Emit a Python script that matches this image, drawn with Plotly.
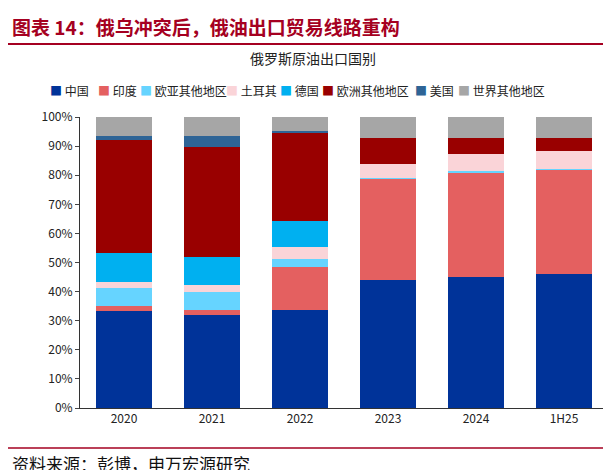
import plotly.graph_objects as go

years = ["2020", "2021", "2022", "2023", "2024", "1H25"]
series = ["中国", "印度", "欧亚其他地区", "土耳其", "德国", "欧洲其他地区", "美国", "世界其他地区"]
colors = ["#003399", "#E46060", "#66D4FF", "#FAD4D8", "#00B0F0", "#990000", "#2E6496", "#A6A6A6"]
values = {
    "中国":       [33.3, 32.0, 33.7, 44.0, 45.0, 46.0],
    "印度":       [1.7, 1.7, 14.8, 34.7, 35.8, 35.8],
    "欧亚其他地区": [6.2, 6.2, 2.7, 0.5, 0.6, 0.4],
    "土耳其":     [2.1, 2.4, 4.1, 4.8, 5.9, 6.2],
    "德国":       [10.0, 9.6, 9.0, 0.0, 0.0, 0.0],
    "欧洲其他地区": [38.8, 37.8, 30.5, 8.8, 5.5, 4.4],
    "美国":       [1.4, 3.8, 0.4, 0.0, 0.0, 0.0],
    "世界其他地区": [6.5, 6.5, 4.8, 7.2, 7.2, 7.2],
}

L, T, W, H = 72, 109, 528, 291
def px(x): return (x - L) / W
def py(y): return (T + H - y) / H

fig = go.Figure()
for s, c in zip(series, colors):
    fig.add_bar(x=years, y=[v / 100 for v in values[s]], name=s, marker_color=c,
                marker_line_width=0, showlegend=False)

font = "Noto Sans CJK SC"
legend_x = [40, 88, 130, 216, 270, 312, 405, 448]
ann = []
for s, c, lx in zip(series, colors, legend_x):
    ann.append(dict(text=f"<span style='color:{c}'>■</span> {s}", xref="paper", yref="paper",
                    x=px(lx), y=py(82), xanchor="left", yanchor="middle", showarrow=False,
                    font=dict(size=12, family=font, color="#222")))
ann += [
    dict(text="<b>图表 14：俄乌冲突后，俄油出口贸易线路重构</b>", xref="paper", yref="paper",
         x=px(2), y=py(18), xanchor="left", yanchor="middle", showarrow=False,
         font=dict(size=19, color="#A50021", family=font)),
    dict(text="俄罗斯原油出口国别", xref="paper", yref="paper", x=px(305), y=py(50),
         xanchor="center", yanchor="middle", showarrow=False, font=dict(size=14, color="#222")),
    dict(text="资料来源：彭博，申万宏源研究", xref="paper", yref="paper", x=px(2), y=py(455),
         xanchor="left", yanchor="middle", showarrow=False, font=dict(size=17, color="#111")),
]

fig.update_layout(
    barmode="stack", bargap=0.37, showlegend=False,
    width=611, height=470, paper_bgcolor="white", plot_bgcolor="white",
    margin=dict(l=L, r=611 - L - W, t=T, b=470 - T - H, pad=0),
    font=dict(family=font, size=12, color="#222"),
    yaxis=dict(range=[0, 1], tickformat=".0%", dtick=0.1, showgrid=False, ticks="outside",
               ticklen=4, linecolor="#333", showline=True),
    xaxis=dict(showline=True, linecolor="#333", ticks=""),
    shapes=[
        dict(type="line", xref="paper", yref="paper", x0=px(0), x1=px(611), y0=py(36), y1=py(36),
             line=dict(color="#A50021", width=2)),
        dict(type="line", xref="paper", yref="paper", x0=px(0), x1=px(611), y0=py(440), y1=py(440),
             line=dict(color="#A50021", width=1.5)),
    ],
    annotations=ann,
)
fig.write_html("out.html")
